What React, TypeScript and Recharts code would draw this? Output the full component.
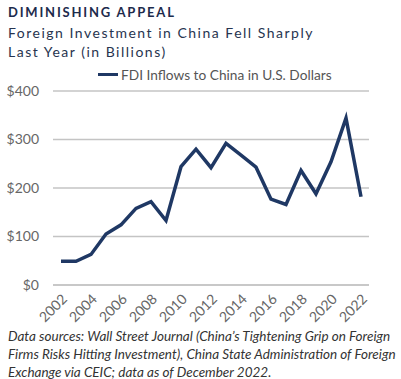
import { LineChart, Line, XAxis, YAxis, CartesianGrid } from 'recharts'

const years = [
  '2002', '2003', '2004', '2005', '2006', '2007', '2008', '2009', '2010', '2011', '2012',
  '2013', '2014', '2015', '2016', '2017', '2018', '2019', '2020', '2021', '2022',
]
const fdiInflows = [49, 49, 63, 105, 124, 158, 172, 133, 244, 280, 242, 292, 268, 243, 177, 166, 236, 188, 254, 344, 182]
const yTicks = [0, 100, 200, 300, 400]
const xTicks = ['2002', '2004', '2006', '2008', '2010', '2012', '2014', '2016', '2018', '2020', '2022']

const seriesName = 'FDI Inflows to China in U.S. Dollars'
const footnoteLines = [
  'Data sources: Wall Street Journal (China’s Tightening Grip on Foreign',
  'Firms Risks Hitting Investment), China State Administration of Foreign',
  'Exchange via CEIC; data as of December 2022.',
]

const data = years.map((year, i) => ({ year, value: fdiInflows[i] }))

const NAVY = '#1f3864'
const FONT = 'Lato, "Open Sans", sans-serif'

export default function App() {
  return (
    <div style={{ position: 'absolute', left: 0, top: 0, width: 401, height: 379, background: '#fff', fontFamily: FONT, overflow: 'hidden' }}>
      <div style={{ position: 'absolute', left: 8, top: 4, fontSize: 13, fontWeight: 700, letterSpacing: 1.8, color: '#1d2b4c', whiteSpace: 'nowrap' }}>
        DIMINISHING APPEAL
      </div>
      <div style={{ position: 'absolute', left: 8, top: 23, fontSize: 14, lineHeight: '19px', letterSpacing: 1.5, color: '#27344f', whiteSpace: 'nowrap' }}>
        Foreign Investment in China Fell Sharply<br />Last Year (in Billions)
      </div>

      <div style={{ position: 'absolute', left: 98, top: 66, display: 'flex', alignItems: 'center', whiteSpace: 'nowrap' }}>
        <div style={{ width: 20, height: 3, background: NAVY, marginRight: 3 }} />
        <span style={{ fontSize: 13.7, color: '#555' }}>{seriesName}</span>
      </div>

      <div style={{ position: 'absolute', left: 0, top: 60 }}>
        <LineChart width={401} height={270} data={data} margin={{ top: 31, right: 32, bottom: 0, left: 0 }}>
          <CartesianGrid vertical={false} stroke="#c4c4c4" strokeWidth={1.5} />
          <XAxis
            dataKey="year"
            ticks={xTicks}
            interval={0}
            height={45}
            padding={{ left: 8, right: 8 }}
            axisLine={{ stroke: '#c4c4c4', strokeWidth: 1.5 }}
            tickLine={false}
            tickSize={0}
            tickMargin={8}
            angle={-45}
            textAnchor="end"
            tick={{ fontSize: 14, fill: '#666', fontFamily: FONT }}
          />
          <YAxis
            domain={[0, 400]}
            ticks={yTicks}
            width={53}
            axisLine={false}
            tickLine={false}
            tickSize={0}
            tickMargin={14}
            tickFormatter={(v: number) => `$${v}`}
            tick={{ fontSize: 14, fill: '#666', fontFamily: FONT }}
          />
          <Line
            type="linear"
            dataKey="value"
            name={seriesName}
            stroke={NAVY}
            strokeWidth={3.5}
            dot={false}
            isAnimationActive={false}
          />
        </LineChart>
      </div>

      <div style={{ position: 'absolute', left: 8, top: 327, fontSize: 13.5, lineHeight: '18px', fontStyle: 'italic', color: '#333', whiteSpace: 'nowrap' }}>
        {footnoteLines.map((line, i) => (
          <div key={i}>{line}</div>
        ))}
      </div>
    </div>
  )
}
